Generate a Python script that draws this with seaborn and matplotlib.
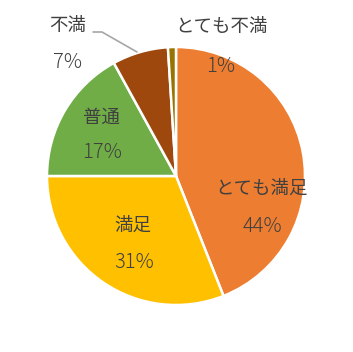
import matplotlib
matplotlib.use("Agg")
import matplotlib.pyplot as plt
import seaborn as sns

# データ
labels = ["とても満足", "満足", "普通", "不満", "とても不満"]
values = [44, 31, 17, 7, 1]
colors = ["#ED7D31", "#FFC000", "#70AD47", "#9E480E", "#997300"]

sns.set_theme(style="white")
plt.rcParams["font.family"] = ["Noto Sans CJK JP", "DejaVu Sans"]

W, H = 353, 352
cx, cy, r = 176, 176, 129

fig = plt.figure(figsize=(W / 100, H / 100), dpi=100)
ax = fig.add_axes([(cx - r) / W, (H - cy - r) / H, 2 * r / W, 2 * r / H])

ax.pie(values, colors=colors, startangle=90, counterclock=False,
       wedgeprops=dict(edgecolor="white", linewidth=1.8), radius=1)
ax.set_xlim(-1, 1)
ax.set_ylim(-1, 1)
ax.axis("off")


def px(x, y):
    # ピクセル座標 -> データ座標
    return (x - cx) / r, (cy - y) / r


# ラベル位置 (名前, 割合)
label_pos = [
    ((262, 189), (262, 226)),
    ((133, 226), (134, 263)),
    ((101, 118), (102, 153)),
    ((68, 26), (68, 63)),
    ((222, 27), (221, 66)),
]

txt_color = "#404040"
for name, v, (p1, p2) in zip(labels, values, label_pos):
    ax.text(*px(*p1), name, ha="center", va="center", fontsize=13.3,
            color=txt_color, clip_on=False)
    ax.text(*px(*p2), f"{v}%", ha="center", va="center", fontsize=14.5,
            color=txt_color, fontweight="light", clip_on=False)

# 不満の引き出し線
lx = [px(93, 32)[0], px(102, 32)[0], px(137, 52)[0]]
ly = [px(93, 32)[1], px(102, 32)[1], px(137, 52)[1]]
ax.plot(lx, ly, color="#A6A6A6", linewidth=1.2, clip_on=False)

fig.savefig("out.png", dpi=100)
